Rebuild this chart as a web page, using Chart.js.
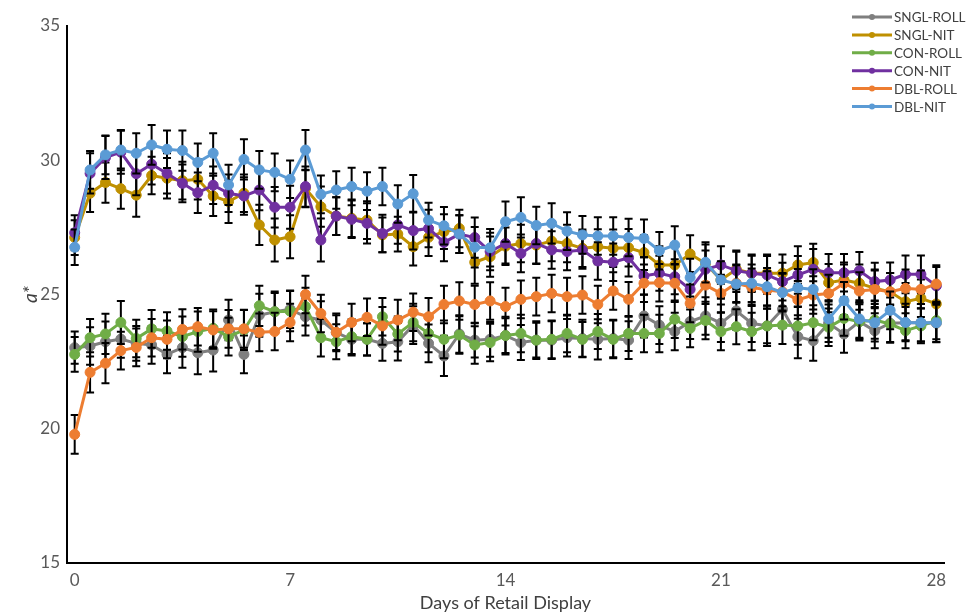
<!DOCTYPE html>
<html>
<head>
<meta charset="utf-8">
<script src="https://cdn.jsdelivr.net/npm/chart.js@4.4.1/dist/chart.umd.min.js"></script>
<style>
  html, body { margin: 0; padding: 0; background: #fff; }
  #wrap { width: 966px; height: 614px; }
</style>
</head>
<body>
<div id="wrap"><canvas id="chart"></canvas></div>
<script>
// days of retail display, sampled every half day
const days = [0, 0.5, 1, 1.5, 2, 2.5, 3, 3.5, 4, 4.5, 5, 5.5, 6, 6.5, 7, 7.5, 8, 8.5, 9, 9.5,
  10, 10.5, 11, 11.5, 12, 12.5, 13, 13.5, 14, 14.5, 15, 15.5, 16, 16.5, 17, 17.5, 18, 18.5, 19, 19.5,
  20, 20.5, 21, 21.5, 22, 22.5, 23, 23.5, 24, 24.5, 25, 25.5, 26, 26.5, 27, 27.5, 28];
const dayTicks = [0, 7, 14, 21, 28];

// a* means per treatment
const snglRoll = [23.02, 23.08, 23.24, 23.34, 23.18, 23.12, 22.77, 23.02, 22.83, 22.93,
  24.05, 22.77, 24.23, 24.36, 24.45, 24.17, 24.05, 23.58, 23.33, 23.33,
  23.18, 23.24, 23.86, 23.18, 22.71, 23.53, 23.30, 23.33, 23.47, 23.21,
  23.30, 23.30, 23.39, 23.36, 23.33, 23.36, 23.30, 24.20, 23.86, 23.62,
  23.99, 24.20, 23.93, 24.39, 23.93, 23.83, 24.45, 23.43, 23.28, 23.93,
  23.53, 23.99, 23.65, 23.93, 23.95, 23.95, 23.93];
const snglNit = [27.12, 28.77, 29.17, 28.94, 28.70, 29.43, 29.33, 29.24, 29.29, 28.67,
  28.46, 28.77, 27.59, 27.03, 27.15, 28.95, 28.27, 27.92, 27.84, 27.77,
  27.22, 27.25, 26.78, 27.13, 27.34, 27.46, 26.20, 26.41, 26.80, 26.90,
  26.84, 26.99, 26.90, 26.72, 26.78, 26.72, 26.74, 26.56, 26.10, 26.10,
  26.51, 26.16, 25.54, 25.94, 25.79, 25.79, 25.79, 26.10, 26.19, 25.44,
  25.54, 25.42, 25.23, 25.10, 24.73, 24.86, 24.65];
const conRoll = [22.77, 23.39, 23.53, 23.96, 23.36, 23.72, 23.64, 23.43, 23.62, 23.74,
  23.43, 23.68, 24.58, 24.36, 24.38, 24.55, 23.39, 23.24, 23.43, 23.33,
  24.17, 23.53, 23.96, 23.55, 23.33, 23.49, 23.12, 23.21, 23.47, 23.55,
  23.30, 23.33, 23.55, 23.33, 23.62, 23.33, 23.55, 23.55, 23.55, 24.08,
  23.74, 24.03, 23.62, 23.80, 23.62, 23.83, 23.86, 23.83, 23.95, 23.78,
  24.11, 23.99, 24.05, 23.90, 23.65, 23.83, 24.03];
const conNit = [27.30, 29.51, 30.10, 30.30, 29.50, 29.85, 29.51, 29.14, 28.79, 29.07,
  28.77, 28.67, 28.89, 28.25, 28.25, 29.02, 27.03, 27.92, 27.80, 27.65,
  27.27, 27.59, 27.38, 27.46, 26.94, 27.25, 27.12, 26.60, 26.90, 26.53,
  26.90, 26.66, 26.60, 26.66, 26.25, 26.20, 26.37, 25.69, 25.79, 25.66,
  25.19, 25.94, 26.10, 25.89, 25.79, 25.73, 25.48, 25.73, 25.94, 25.81,
  25.81, 25.88, 25.48, 25.54, 25.75, 25.75, 25.32];
const dblRoll = [19.79, 22.10, 22.44, 22.91, 23.03, 23.39, 23.33, 23.70, 23.80, 23.68,
  23.72, 23.72, 23.59, 23.62, 23.96, 25.00, 24.29, 23.59, 23.96, 24.15,
  23.83, 24.05, 24.34, 24.17, 24.63, 24.76, 24.63, 24.76, 24.55, 24.82,
  24.92, 25.04, 24.92, 24.98, 24.63, 25.13, 24.82, 25.42, 25.44, 25.42,
  24.67, 25.35, 25.04, 25.42, 25.27, 25.17, 25.10, 24.80, 24.98, 25.04,
  25.42, 25.13, 25.19, 25.10, 25.23, 25.19, 25.39];
const dblNit = [26.76, 29.64, 30.20, 30.38, 30.26, 30.57, 30.41, 30.36, 29.92, 30.26,
  29.08, 30.03, 29.64, 29.55, 29.29, 30.38, 28.73, 28.89, 29.02, 28.85,
  29.02, 28.37, 28.75, 27.77, 27.56, 27.25, 26.76, 26.74, 27.71, 27.87,
  27.57, 27.65, 27.36, 27.22, 27.18, 27.18, 27.12, 27.09, 26.63, 26.84,
  25.63, 26.20, 25.54, 25.39, 25.42, 25.29, 25.07, 25.25, 25.19, 24.09,
  24.77, 24.09, 23.95, 24.41, 23.96, 23.95, 23.95];

// standard errors
const snglRollErr = [0.60, 0.70, 0.75, 0.70, 0.65, 0.70, 0.70, 0.75, 0.80, 0.80,
  0.75, 0.70, 0.80, 0.75, 0.70, 0.70, 0.70, 0.65, 0.60, 0.60,
  0.65, 0.70, 0.70, 0.70, 0.75, 0.70, 0.65, 0.65, 0.65, 0.65,
  0.70, 0.70, 0.70, 0.70, 0.75, 0.70, 0.70, 0.80, 0.70, 0.70,
  0.65, 0.70, 0.70, 0.70, 0.70, 0.75, 0.70, 0.80, 0.75, 0.70,
  0.70, 0.70, 0.65, 0.70, 0.65, 0.70, 0.70];
const snglNitErr = [0.65, 0.70, 0.75, 0.75, 0.80, 0.70, 0.75, 0.70, 0.75, 0.75,
  0.80, 0.70, 0.75, 0.80, 0.80, 0.70, 0.75, 0.70, 0.70, 0.70,
  0.65, 0.65, 0.70, 0.70, 0.65, 0.70, 0.80, 0.75, 0.70, 0.70,
  0.70, 0.75, 0.70, 0.70, 0.65, 0.70, 0.70, 0.65, 0.70, 0.70,
  0.70, 0.70, 0.65, 0.70, 0.65, 0.70, 0.70, 0.70, 0.70, 0.70,
  0.65, 0.70, 0.70, 0.70, 0.70, 0.70, 0.70];
const conRollErr = [0.65, 0.70, 0.75, 0.80, 0.70, 0.70, 0.70, 0.75, 0.75, 0.70,
  0.70, 0.75, 0.75, 0.70, 0.75, 0.70, 0.70, 0.65, 0.65, 0.60,
  0.70, 0.65, 0.70, 0.70, 0.70, 0.70, 0.70, 0.70, 0.70, 0.70,
  0.65, 0.70, 0.70, 0.65, 0.65, 0.70, 0.65, 0.70, 0.70, 0.70,
  0.70, 0.70, 0.70, 0.65, 0.70, 0.65, 0.70, 0.70, 0.65, 0.70,
  0.65, 0.65, 0.70, 0.70, 0.65, 0.65, 0.70];
const conNitErr = [0.65, 0.75, 0.80, 0.80, 0.80, 0.75, 0.75, 0.70, 0.75, 0.70,
  0.70, 0.70, 0.75, 0.75, 0.80, 0.75, 0.80, 0.70, 0.70, 0.75,
  0.70, 0.70, 0.70, 0.70, 0.70, 0.70, 0.75, 0.70, 0.75, 0.70,
  0.75, 0.70, 0.70, 0.70, 0.70, 0.70, 0.70, 0.70, 0.65, 0.65,
  0.65, 0.70, 0.70, 0.70, 0.70, 0.70, 0.70, 0.70, 0.75, 0.70,
  0.70, 0.70, 0.70, 0.65, 0.70, 0.70, 0.70];
const dblRollErr = [0.72, 0.75, 0.75, 0.70, 0.70, 0.70, 0.70, 0.75, 0.70, 0.70,
  0.70, 0.70, 0.70, 0.70, 0.70, 0.70, 0.70, 0.70, 0.70, 0.70,
  0.70, 0.75, 0.70, 0.70, 0.70, 0.70, 0.70, 0.70, 0.70, 0.70,
  0.70, 0.70, 0.70, 0.70, 0.70, 0.70, 0.65, 0.70, 0.70, 0.70,
  0.70, 0.70, 0.70, 0.70, 0.70, 0.70, 0.70, 0.70, 0.70, 0.70,
  0.70, 0.70, 0.70, 0.70, 0.70, 0.70, 0.70];
const dblNitErr = [0.66, 0.70, 0.72, 0.75, 0.75, 0.74, 0.70, 0.75, 0.70, 0.75,
  0.75, 0.75, 0.70, 0.70, 0.70, 0.75, 0.70, 0.70, 0.70, 0.70,
  0.70, 0.70, 0.70, 0.65, 0.70, 0.70, 0.75, 0.70, 0.75, 0.75,
  0.70, 0.75, 0.70, 0.70, 0.70, 0.70, 0.70, 0.70, 0.70, 0.70,
  0.70, 0.75, 0.70, 0.70, 0.70, 0.70, 0.70, 0.70, 0.75, 0.70,
  0.70, 0.70, 0.70, 0.70, 0.70, 0.70, 0.73];

const seriesNames = ['SNGL-ROLL', 'SNGL-NIT', 'CON-ROLL', 'CON-NIT', 'DBL-ROLL', 'DBL-NIT'];
const seriesValues = [snglRoll, snglNit, conRoll, conNit, dblRoll, dblNit];
const seriesErrors = [snglRollErr, snglNitErr, conRollErr, conNitErr, dblRollErr, dblNitErr];
const colors = ['#7f7f7f', '#bf9000', '#70ad47', '#7030a0', '#ed7d31', '#5b9bd5'];

const font = 'Lato, "Open Sans", sans-serif';

// vertical error bars, drawn just under each series so later series sit on top
const errorBars = {
  id: 'errorBars',
  beforeDatasetDraw(chart, args) {
    const ds = chart.data.datasets[args.index];
    const y = chart.scales.y;
    const ctx = chart.ctx;
    ctx.save();
    ctx.strokeStyle = '#000';
    ctx.lineWidth = 2;
    args.meta.data.forEach((pt, j) => {
      const v = ds.data[j].y;
      const e = ds.errors[j];
      const top = y.getPixelForValue(v + e);
      const bot = y.getPixelForValue(v - e);
      ctx.beginPath();
      ctx.moveTo(pt.x, top);
      ctx.lineTo(pt.x, bot);
      ctx.moveTo(pt.x - 4, top);
      ctx.lineTo(pt.x + 4, top);
      ctx.moveTo(pt.x - 4, bot);
      ctx.lineTo(pt.x + 4, bot);
      ctx.stroke();
    });
    ctx.restore();
  }
};

// legend box in the top right corner
const cornerLegend = {
  id: 'cornerLegend',
  afterDraw(chart) {
    const ctx = chart.ctx;
    ctx.save();
    ctx.font = '13.5px ' + font;
    ctx.textBaseline = 'middle';
    chart.data.datasets.forEach((ds, i) => {
      const y = 17 + i * 17.9;
      ctx.strokeStyle = ds.borderColor;
      ctx.fillStyle = ds.borderColor;
      ctx.lineWidth = 3;
      ctx.beginPath();
      ctx.moveTo(852, y);
      ctx.lineTo(892, y);
      ctx.stroke();
      ctx.beginPath();
      ctx.arc(872, y, 3, 0, Math.PI * 2);
      ctx.fill();
      ctx.fillStyle = '#404040';
      ctx.fillText(ds.label, 894, y + 1);
    });
    ctx.restore();
  }
};

const datasets = seriesNames.map((name, i) => ({
  label: name,
  data: days.map((d, j) => ({ x: d, y: seriesValues[i][j] })),
  errors: seriesErrors[i],
  borderColor: colors[i],
  backgroundColor: colors[i],
  pointBackgroundColor: colors[i],
  pointBorderColor: colors[i],
  borderWidth: 3,
  pointRadius: 5,
  pointBorderWidth: 1,
  tension: 0,
  order: seriesNames.length - i
}));

new Chart(document.getElementById('chart'), {
  type: 'line',
  data: { datasets: datasets },
  plugins: [errorBars, cornerLegend],
  options: {
    responsive: true,
    maintainAspectRatio: false,
    animation: false,
    devicePixelRatio: 1,
    layout: { padding: { top: 26, right: 22, left: 0, bottom: 0 } },
    plugins: {
      legend: { display: false },
      tooltip: { enabled: false }
    },
    scales: {
      x: {
        type: 'linear',
        min: -0.25,
        max: 28.25,
        afterBuildTicks: s => { s.ticks = dayTicks.map(v => ({ value: v })); },
        afterFit: s => { s.height = 51; },
        grid: { display: false, drawTicks: false },
        border: { display: true, color: '#000', width: 2 },
        ticks: { color: '#595959', font: { family: font, size: 17 }, padding: 7, maxRotation: 0 },
        title: {
          display: true,
          text: 'Days of Retail Display',
          color: '#404040',
          font: { family: font, size: 18 },
          padding: { top: 0, bottom: 0 }
        }
      },
      y: {
        min: 15,
        max: 35,
        afterFit: s => { s.width = 67; },
        grid: { display: false, drawTicks: false },
        border: { display: true, color: '#000', width: 2 },
        ticks: { stepSize: 5, color: '#595959', font: { family: font, size: 17 }, padding: 7 },
        title: {
          display: true,
          text: 'a*',
          color: '#404040',
          font: { family: font, size: 19, style: 'italic' },
          padding: { top: 19, bottom: 0 }
        }
      }
    }
  }
});
</script>
</body>
</html>
